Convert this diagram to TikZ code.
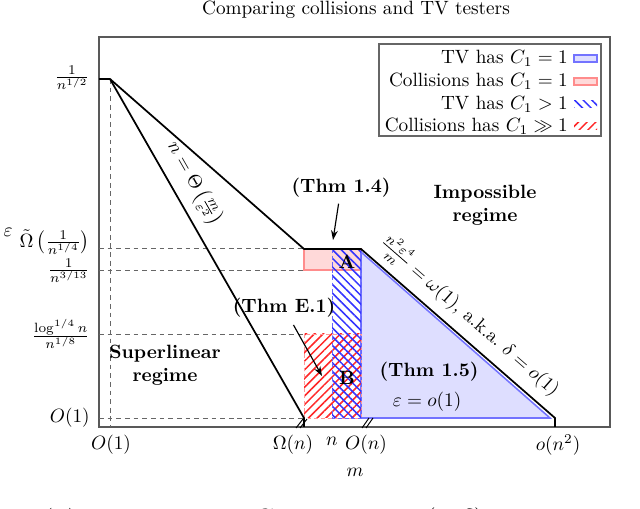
\documentclass[tikz,border=0pt]{standalone}
\usetikzlibrary{patterns.meta,arrows.meta}
\begin{document}
\begin{tikzpicture}[x=0.52pt,y=-0.52pt,
  frame/.style={draw=black!65,line width=0.7pt},
  guide/.style={draw=black!60,line width=0.5pt,dash pattern=on 2.5pt off 2pt},
  bound/.style={draw=black,line width=0.9pt},
  brk/.style={draw=black,line width=0.5pt},
  lbl/.style={inner sep=1pt},
  bold/.style={font=\bfseries,align=center,inner sep=1pt},
  pointer/.style={draw=black,line width=0.6pt,-{Stealth[length=5pt,width=3.5pt]}},
  bluehatch/.style={pattern={Lines[angle=-45,distance=3.2pt,line width=0.8pt]},pattern color=blue!80},
  redhatch/.style={pattern={Lines[angle=45,distance=3.2pt,line width=0.8pt]},pattern color=red!85},
  bluefill/.style={fill=blue!13,draw=blue!55,line width=0.8pt},
  redfill/.style={fill=red!15,draw=red!45,line width=0.8pt},
  bluedash/.style={draw=blue!60,line width=0.5pt,dash pattern=on 2pt off 1.5pt},
  reddash/.style={draw=red!40,line width=0.5pt,dash pattern=on 2pt off 1.5pt},
]
\clip (0,0) rectangle (640,509);
\useasboundingbox (0,0) rectangle (640,509);

% title
\node (title) at (356,10) {Comparing collisions and TV testers};

% frame
\draw[frame] (99,37) rectangle (610,427);

% regions
\path[redfill] (304,249) rectangle (361,270);
\path[bluefill] (361,252) -- (361,418) -- (550,418) -- cycle;
\path[redhatch] (304,334) rectangle (361,418);
\draw[reddash] (304,334) rectangle (361,418);
\path[bluehatch] (332,249) rectangle (361,418);
\draw[bluedash] (332,249) rectangle (361,418);

% guides
\draw[guide] (99,248) -- (304,248);
\draw[guide] (99,270) -- (304,270);
\draw[guide] (99,334) -- (304,334);
\draw[guide] (99,418) -- (304,418);
\draw[guide] (110,79) -- (110,427);

% boundaries
\draw[bound] (99,79) -- (110,79) -- (304,249) -- (361,249) -- (555,418) -- (555,427);
\draw[bound] (110,79) -- (304,418) -- (304,427);
\path (110,79) -- (304,418) node[sloped,above,pos=0.34,inner sep=5pt] (thetalbl) {$n=\Theta\left(\frac{m}{\varepsilon^2}\right)$};
\path (361,249) -- (555,418) node[sloped,above,pos=0.49,inner sep=4pt] (omegalbl) {$\frac{n^2\varepsilon^4}{m}=\omega(1)$, a.k.a.\ $\delta=o(1)$};

% axis breaks
\draw[brk] (296,428) -- (303,419);
\draw[brk] (300,428) -- (307,419);
\draw[brk] (362,428) -- (369,418);
\draw[brk] (366,428) -- (373,418);

% y labels
\node[lbl,anchor=east] (y1) at (92,78) {$\frac{1}{n^{1/2}}$};
\node[lbl,anchor=east] (y2) at (92,242) {$\tilde\Omega\left(\frac{1}{n^{1/4}}\right)$};
\node[lbl,anchor=east] (y3) at (92,271) {$\frac{1}{n^{3/13}}$};
\node[lbl,anchor=east] (y4) at (92,334) {$\frac{\log^{1/4} n}{n^{1/8}}$};
\node[lbl,anchor=east] (y5) at (92,418) {$O(1)$};
\node (eps) at (8,232) {$\varepsilon$};

% x labels
\node (x1) at (111,445) {$O(1)$};
\node (x2) at (293,445) {$\Omega(n)$};
\node (x3) at (332,441) {$n$};
\node (x4) at (366,445) {$O(n)$};
\node (x5) at (558,445) {$o(n^2)$};
\node (m) at (355,472) {$m$};

% region labels
\node[bold] (A) at (347,262) {A};
\node[bold] (B) at (347,378) {B};
\node[bold] (thm15) at (429,372) {(Thm 1.5)};
\node (epso) at (427,402) {$\varepsilon=o(1)$};
\node[bold] (imp) at (485,205) {Impossible\\regime};
\node[bold] (sup) at (165,365) {Superlinear\\regime};
\node[bold] (thm14) at (341,188) {(Thm 1.4)};
\coordinate (a14) at (333,240);
\draw[pointer,shorten <=2pt] (thm14) -- (a14);
\node[bold] (thmE) at (284,308) {(Thm E.1)};
\coordinate (aE) at (322,376);
\draw[pointer,shorten <=3pt] (thmE) -- (aE);

% legend
\draw[black!60,line width=0.6pt] (379,44) rectangle (601,136);
\node[anchor=east,inner sep=1pt] (l1) at (570,58) {TV has $C_1=1$};
\node[anchor=east,inner sep=1pt] (l2) at (570,81) {Collisions has $C_1=1$};
\node[anchor=east,inner sep=1pt] (l3) at (570,104) {TV has $C_1>1$};
\node[anchor=east,inner sep=1pt] (l4) at (570,126) {Collisions has $C_1\gg1$};
\path[bluefill] (574,55) rectangle (597,62);
\path[redfill] (574,78) rectangle (597,85);
\path[bluehatch] (574,101) rectangle (597,108);
\path[redhatch] (574,123) rectangle (597,130);

% caption (cut off at the bottom edge)
\node[anchor=west,font=\fontsize{14}{16}\selectfont] (cap) at (36,522) {(b)\enspace The constant $C_1$ in different $(\varepsilon,\delta)$ parameter regimes};
\end{tikzpicture}
\end{document}
